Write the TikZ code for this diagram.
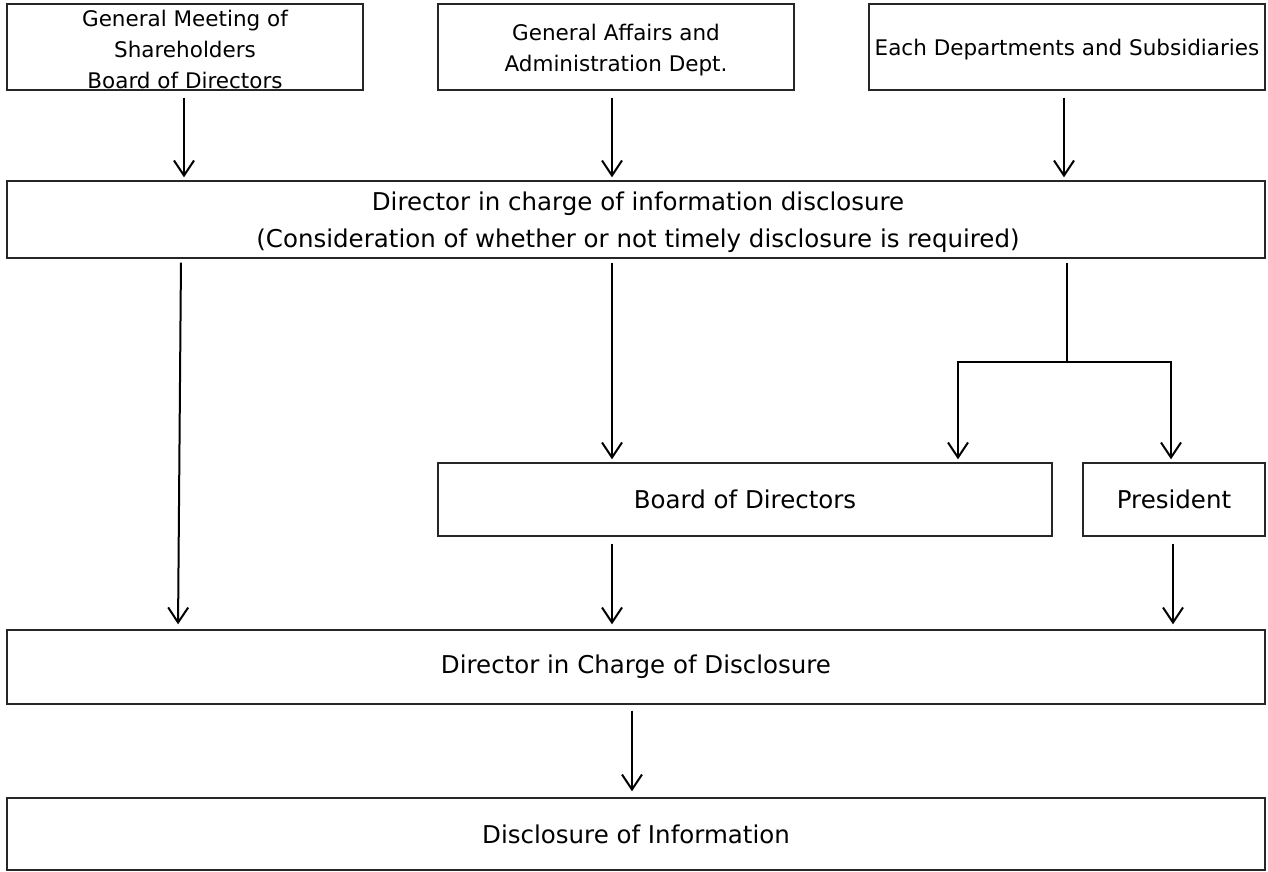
\documentclass[tikz,border=0pt]{standalone}
\usepackage{fontspec}
\setmainfont{DejaVu Sans}
\usetikzlibrary{arrows.meta}
\newcommand\topsz{\fontsize{21.5}{31}\selectfont}
\newcommand\mainsz{\fontsize{24.5}{37}\selectfont}
\tikzset{
  box/.style={draw=black!85, line width=1.4pt, inner sep=0pt, align=center, font=\mainsz},
  topbox/.style={box, font=\topsz},
  lbl/.style={inner sep=0pt, align=center, font=\mainsz},
  toplbl/.style={lbl, font=\topsz},
  arr/.style={line width=2pt, -{Straight Barb[length=15pt,width=20pt,line width=2pt]}},
  ln/.style={line width=2pt}
}
\begin{document}
\begin{tikzpicture}[x=1pt,y=-1pt]
\useasboundingbox (0,0) rectangle (1268,872);
% boxes
\node[topbox, minimum width=356pt, minimum height=86pt] (A) at (185,47) {};
\node[toplbl] (At) at (185,49) {General Meeting of\\Shareholders\\Board of Directors};
\node[topbox, minimum width=356pt, minimum height=86pt] (B) at (616,47) {};
\node[toplbl] (Bt) at (616,50) {General Affairs and\\Administration Dept.};
\node[topbox, minimum width=396pt, minimum height=86pt] (C) at (1067,47) {};
\node[toplbl] (Ct) at (1067,50) {Each Departments and Subsidiaries};
\node[box, minimum width=1258pt, minimum height=77pt] (D) at (636,219.5) {};
\node[lbl] (Dt) at (638,222) {Director in charge of information disclosure\\(Consideration of whether or not timely disclosure is required)};
\node[box, minimum width=614pt, minimum height=73pt] (E) at (745,499.5) {Board of Directors};
\node[box, minimum width=182pt, minimum height=73pt] (F) at (1174,499.5) {President};
\node[box, minimum width=1258pt, minimum height=74pt] (G) at (636,667) {Director in Charge of Disclosure};
\node[box, minimum width=1258pt, minimum height=72pt] (H) at (636,834) {Disclosure of Information};
% helper coordinates
\coordinate (xa) at (184,0);
\coordinate (xb) at (612,0);
\coordinate (xc) at (1064,0);
\coordinate (xl1) at (181,0);
\coordinate (xl2) at (178,0);
\coordinate (br) at (1067,362);
\coordinate (xe) at (958,0);
\coordinate (xf) at (1171,0);
\coordinate (xf2) at (1173,0);
\coordinate (xg) at (632,0);
% connectors
\draw[arr, shorten <=7pt, shorten >=3pt] (A.south -| xa) -- (D.north -| xa);
\draw[arr, shorten <=7pt, shorten >=3pt] (B.south -| xb) -- (D.north -| xb);
\draw[arr, shorten <=7pt, shorten >=3pt] (C.south -| xc) -- (D.north -| xc);
\draw[arr, shorten <=4pt, shorten >=5pt] (D.south -| xl1) -- (G.north -| xl2);
\draw[arr, shorten <=4pt, shorten >=3pt] (D.south -| xb) -- (E.north -| xb);
\draw[ln, shorten <=4pt] (D.south -| br) -- (br);
\draw[arr, shorten >=3pt] (br) -| (E.north -| xe);
\draw[arr, shorten >=3pt] (br) -| (F.north -| xf);
\draw[arr, shorten <=7pt, shorten >=5pt] (E.south -| xb) -- (G.north -| xb);
\draw[arr, shorten <=7pt, shorten >=5pt] (F.south -| xf2) -- (G.north -| xf2);
\draw[arr, shorten <=6pt, shorten >=6pt] (G.south -| xg) -- (H.north -| xg);
\end{tikzpicture}
\end{document}
